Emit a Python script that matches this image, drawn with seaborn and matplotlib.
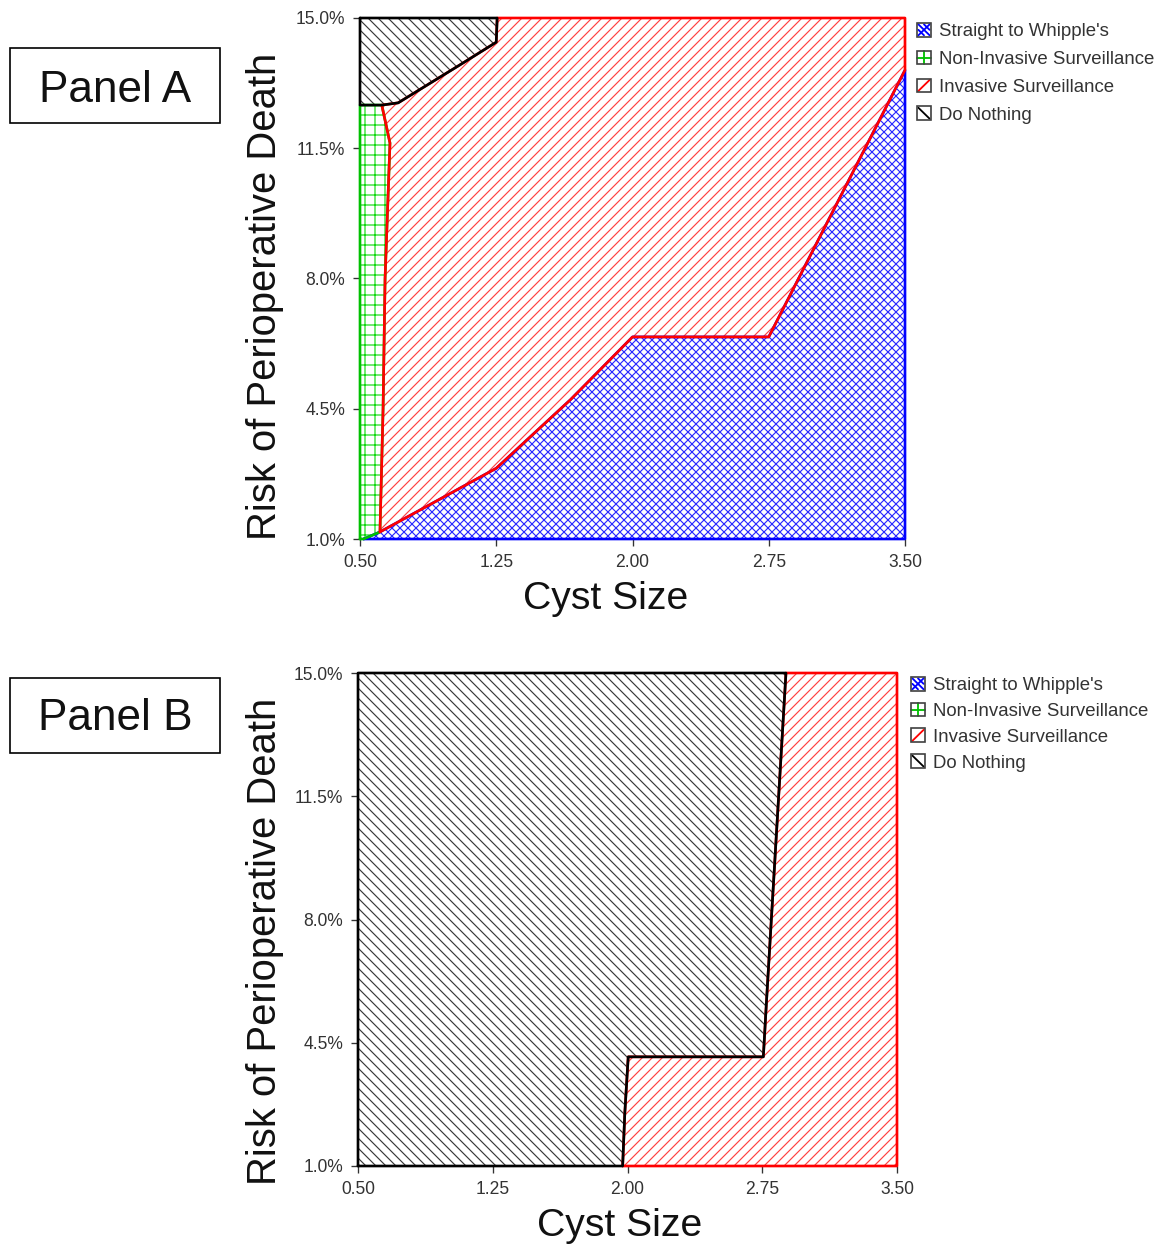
import matplotlib
matplotlib.use("Agg")
import matplotlib.pyplot as plt
from matplotlib.patches import Patch, Rectangle
from matplotlib.legend_handler import HandlerBase
from matplotlib.lines import Line2D
import seaborn as sns

# axis ticks
x_ticks = [0.50, 1.25, 2.00, 2.75, 3.50]
y_ticks = [1.0, 4.5, 8.0, 11.5, 15.0]
strategies = ["Straight to Whipple's", "Non-Invasive Surveillance",
              "Invasive Surveillance", "Do Nothing"]

# Panel A: optimal strategy regions (cyst size, risk of perioperative death %)
a_whipple_x = [0.52, 0.61, 1.25, 1.66, 2.00, 2.75, 3.50, 3.50]
a_whipple_y = [1.0, 1.19, 2.90, 4.75, 6.43, 6.43, 13.6, 1.0]
a_noninv_x = [0.50, 0.52, 0.61, 0.627, 0.638, 0.665, 0.62, 0.50]
a_noninv_y = [1.0, 1.0, 1.19, 4.5, 8.0, 11.64, 12.66, 12.66]
a_inv_x = [0.61, 1.25, 1.66, 2.00, 2.75, 3.50, 3.50, 1.255, 1.25, 1.05, 0.71,
           0.62, 0.665, 0.638, 0.627]
a_inv_y = [1.19, 2.90, 4.75, 6.43, 6.43, 13.6, 15.0, 15.0, 14.35, 13.74, 12.72,
           12.66, 11.64, 8.0, 4.5]
a_none_x = [0.50, 1.255, 1.25, 1.05, 0.71, 0.62, 0.50]
a_none_y = [15.0, 15.0, 14.35, 13.74, 12.72, 12.66, 12.66]

# Panel B
b_inv_x = [1.973, 3.50, 3.50, 2.882, 2.774, 2.756, 2.004, 1.985]
b_inv_y = [1.0, 1.0, 15.0, 15.0, 5.71, 4.10, 4.10, 2.5]
b_none_x = [0.50, 1.973, 1.985, 2.004, 2.756, 2.774, 2.882, 0.50]
b_none_y = [1.0, 1.0, 2.5, 4.10, 4.10, 5.71, 15.0, 15.0]

sns.set_style("white")
plt.rcParams['font.family'] = ['Liberation Sans', 'DejaVu Sans']
plt.rcParams['hatch.linewidth'] = 0.7

# hatch colour, hatch pattern, outline colour for each strategy
styles = {
    "Straight to Whipple's": ('#2a2aff', 'xxxxx', '#0000ff'),
    "Non-Invasive Surveillance": ('#10d810', '++', '#00c000'),
    "Invasive Surveillance": ('#ff4040', '////', '#ff0000'),
    "Do Nothing": ('#383838', '\\\\\\\\', '#000000'),
}
# little pattern drawn inside each legend box (unit square segments)
icon_lines = {
    "Straight to Whipple's": [((0.1, 0.1), (0.9, 0.9)), ((0.1, 0.9), (0.9, 0.1)),
                              ((0.5, 0.1), (0.1, 0.5)), ((0.5, 0.9), (0.9, 0.5))],
    "Non-Invasive Surveillance": [((0.5, 0.0), (0.5, 1.0)), ((0.0, 0.5), (1.0, 0.5))],
    "Invasive Surveillance": [((0.1, 0.1), (0.9, 0.9))],
    "Do Nothing": [((0.1, 0.9), (0.9, 0.1))],
}


class IconHandler(HandlerBase):
    def create_artists(self, legend, orig_handle, xdescent, ydescent,
                       width, height, fontsize, trans):
        name = orig_handle.get_label()
        x0, y0 = -xdescent, -ydescent
        arts = [Rectangle((x0, y0), width, height, facecolor='white',
                          edgecolor='none', transform=trans)]
        for (u0, v0), (u1, v1) in icon_lines[name]:
            arts.append(Line2D([x0 + u0 * width, x0 + u1 * width],
                               [y0 + v0 * height, y0 + v1 * height],
                               color=styles[name][2], lw=1.1, transform=trans))
        arts.append(Rectangle((x0, y0), width, height, facecolor='none',
                              edgecolor='#404040', lw=1.0, transform=trans))
        return arts


W, H, DPI = 1160, 1251, 120
fig = plt.figure(figsize=(W / DPI, H / DPI), dpi=DPI)
ax_a = fig.add_axes([360 / W, 1 - 539 / H, 545 / W, 521 / H])
ax_b = fig.add_axes([358 / W, 1 - 1166 / H, 539 / W, 493 / H])


def draw_region(ax, name, xs, ys):
    hc, hatch, _ = styles[name]
    ax.fill(xs, ys, facecolor='white', edgecolor=hc, hatch=hatch, linewidth=0)


def draw_outline(ax, name, xs, ys):
    oc = styles[name][2]
    sns.lineplot(x=xs + xs[:1], y=ys + ys[:1], sort=False, estimator=None,
                 color=oc, lw=1.6, ax=ax, clip_on=False)


def style_axes(ax, label_xy, ylabel_xy):
    ax.set_xlim(0.5, 3.5)
    ax.set_ylim(1.0, 15.0)
    ax.set_xticks(x_ticks)
    ax.set_xticklabels([f"{v:.2f}" for v in x_ticks])
    ax.set_yticks(y_ticks)
    ax.set_yticklabels([f"{v:.1f}%" for v in y_ticks])
    ax.tick_params(axis='both', length=4, width=0.8, pad=5, labelsize=10.5,
                   colors='#333333', direction='out', bottom=True, left=True)
    for s in ax.spines.values():
        s.set_visible(False)
    ax.set_xlabel("Cyst Size", fontsize=23.5, color='#111111')
    ax.set_ylabel("Risk of Perioperative Death", fontsize=24, color='#111111')
    ax.xaxis.set_label_coords(*label_xy)
    ax.yaxis.set_label_coords(*ylabel_xy)


def add_legend(anchor, spacing):
    handles = [Patch(label=name) for name in strategies]
    fig.legend(handles=handles, labels=strategies, loc='upper left',
               bbox_to_anchor=(anchor[0] / W, 1 - anchor[1] / H),
               bbox_transform=fig.transFigure, frameon=False, borderpad=0,
               borderaxespad=0, handlelength=0.75, handleheight=0.75,
               handletextpad=0.45, labelspacing=spacing, fontsize=11.2,
               labelcolor='#333333', handler_map={Patch: IconHandler()})


# Panel A
draw_region(ax_a, "Straight to Whipple's", a_whipple_x, a_whipple_y)
draw_region(ax_a, "Non-Invasive Surveillance", a_noninv_x, a_noninv_y)
draw_region(ax_a, "Invasive Surveillance", a_inv_x, a_inv_y)
draw_region(ax_a, "Do Nothing", a_none_x, a_none_y)
draw_outline(ax_a, "Straight to Whipple's", a_whipple_x, a_whipple_y)
draw_outline(ax_a, "Non-Invasive Surveillance", a_noninv_x, a_noninv_y)
draw_outline(ax_a, "Invasive Surveillance", a_inv_x, a_inv_y)
draw_outline(ax_a, "Do Nothing", a_none_x, a_none_y)
style_axes(ax_a, (0.45, -0.08), (-0.140, 0.465))
add_legend((917, 23), 0.56)

# Panel B
draw_region(ax_b, "Invasive Surveillance", b_inv_x, b_inv_y)
draw_region(ax_b, "Do Nothing", b_none_x, b_none_y)
draw_outline(ax_b, "Invasive Surveillance", b_inv_x, b_inv_y)
draw_outline(ax_b, "Do Nothing", b_none_x, b_none_y)
style_axes(ax_b, (0.486, -0.085), (-0.138, 0.456))
add_legend((911, 677), 0.45)

# panel labels
for label, top, cy in [("Panel A", 48, 91), ("Panel B", 678, 719)]:
    fig.add_artist(Rectangle((10 / W, 1 - (top + 75) / H), 210 / W, 75 / H,
                             transform=fig.transFigure, fill=False,
                             edgecolor='black', lw=1.0))
    fig.text(115 / W, 1 - cy / H, label, fontsize=26.5, ha='center', va='center',
             color='#111111')

fig.savefig("out.png", dpi=DPI)
